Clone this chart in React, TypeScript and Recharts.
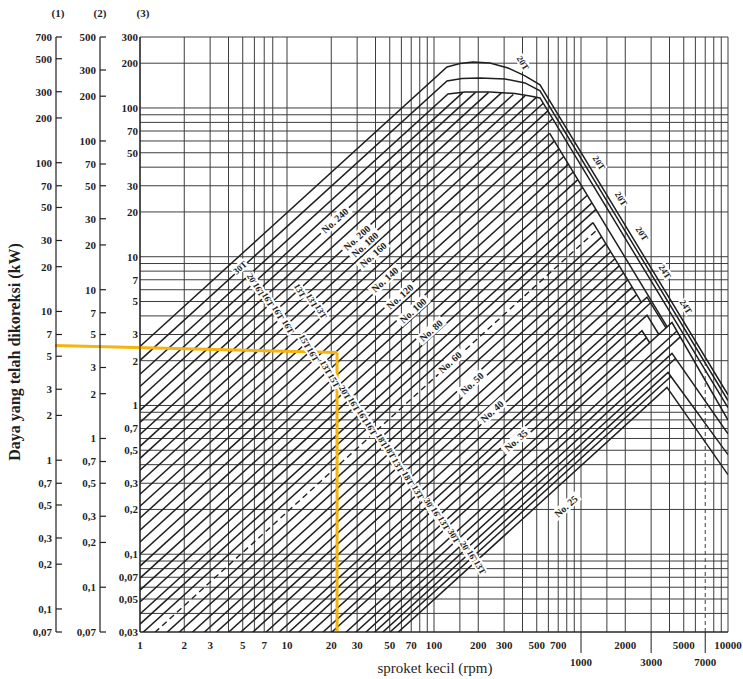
import React from 'react';
import { ComposedChart, Line, Scatter, XAxis, YAxis, CartesianGrid, ReferenceLine } from 'recharts';

type Pt = [number, number];

const INK = '#1f1f1f';
const GRID = '#3d3d3d';
const GOLD = '#F6B40C';
const SERIF = '"Liberation Serif", "DejaVu Serif", serif';

// rpm axis (small sprocket)
const rpmGrid = [1, 2, 3, 4, 5, 6, 7, 8, 10, 20, 30, 40, 50, 60, 70, 80, 90, 100, 150, 200, 300, 400, 500, 600, 700, 800, 900, 1000, 1500, 2000, 3000, 4000, 5000, 6000, 8000, 9000, 10000];
const rpmTicks = [1, 2, 3, 5, 7, 10, 20, 30, 50, 70, 100, 200, 300, 500, 700, 1000, 2000, 3000, 5000, 7000, 10000];
const rpmLowRow = [1000, 3000, 7000];

// kW axes (3), (2), (1)
const kwGrid = [0.03, 0.04, 0.05, 0.06, 0.07, 0.08, 0.09, 0.1, 0.2, 0.3, 0.4, 0.5, 0.6, 0.7, 0.8, 0.9, 1, 2, 3, 4, 5, 6, 7, 8, 9, 10, 20, 30, 40, 50, 60, 70, 80, 90, 100, 200, 300];
const kwTicks = [0.03, 0.05, 0.07, 0.1, 0.2, 0.3, 0.5, 0.7, 1, 2, 3, 5, 7, 10, 20, 30, 50, 70, 100, 200, 300];
const scale2Ticks = [0.05, 0.1, 0.2, 0.3, 0.5, 0.7, 1, 2, 3, 5, 7, 10, 20, 30, 50, 70, 100, 200, 300, 500];
const scale1Ticks = [0.07, 0.1, 0.2, 0.3, 0.5, 0.7, 1, 2, 3, 5, 7, 10, 20, 30, 50, 70, 100, 200, 300, 500, 700];

// chain curves, [rpm, kW] vertices
const domeLines: Pt[][] = [
  [[1, 2.49], [122.6, 188.7], [150.3, 199.1], [184.2, 203.8], [240.4, 200.7], [318.7, 185.7], [415.9, 164.2], [526.2, 142.9], [10000, 1.18]],
  [[1, 2.01], [122.6, 151.9], [155.1, 157.9], [205.6, 159.1], [304.1, 156.7], [415.9, 147.3], [526.2, 130.2], [10000, 1.08]],
  [[1, 1.62], [124.5, 124.3], [162.5, 128.2], [240.4, 128.2], [355.6, 125.2], [449.9, 120.5], [526.2, 116.8], [10000, 0.968]],
];

const capLines: Pt[][] = [
  [[1, 1.34], [156.1, 126.3]],
  [[1, 1.12], [191.6, 127.2]],
  [[1, 0.927], [235.2, 127.2]],
  [[1, 0.77], [287.4, 126.3]],
  [[1, 0.639], [346.3, 123.3]],
  [[1, 0.531], [415.9, 120.5]],
  [[1, 0.441], [496.5, 117.8]],
];

const upperBundle: Pt[][] = [
  [[1, 0.367], [553.4, 107.6]],
  [[1, 0.305], [595.4, 95.6]],
  [[1, 0.253], [641.1, 84.7]],
  [[612.4, 67.6], [3858, 3.38]],
  [[1, 0.21], [612.4, 67.6]],
  [[1, 0.175], [659.2, 59.9]],
  [[1, 0.145], [709.8, 53.2]],
  [[1, 0.121], [763.8, 47.2]],
  [[1, 0.1], [822.2, 41.9]],
  [[1, 0.0832], [885.1, 37.1]],
  [[1, 0.0691], [952.6, 33.0]],
  [[1, 0.0574], [1025, 29.2]],
  [[1, 0.0477], [1104, 25.9]],
  [[1, 0.0396], [1188, 23.0]],
  [[1, 0.0339], [1263, 20.8]],
];

const midBundle: Pt[][] = [
  [[1207, 16.96], [2576, 4.93]],
  [[1, 0.0286], [1207, 16.96]],
  [[1, 0.0204], [1381, 13.6]],
  [[1, 0.0172], [1477, 12.2]],
  [[1, 0.0143], [1590, 10.8]],
  [[1, 0.0121], [1701, 9.69]],
  [[1, 0.0102], [1819, 8.68]],
  [[1, 0.00858], [1946, 7.78]],
  [[1, 0.00724], [2082, 6.97]],
  [[1, 0.00611], [2227, 6.25]],
  [[1, 0.00507], [2393, 5.56]],
];
const dashedLine: Pt[] = [[1, 0.0242], [1291, 15.2]];

const lowBundle: Pt[][] = [
  [[1, 0.00421], [2812, 5.35], [3786, 3.32]],
  [[1, 0.00367], [2966, 4.88]],
  [[1, 0.00319], [2812, 4.05], [3388, 3.0]],
  [[1, 0.00269], [2600, 3.18], [2934, 2.64]],
  [[1, 0.00227], [2790, 2.86]],
  [[1, 0.00201], [4159, 3.61], [10000, 0.798]],
  [[1, 0.00164], [4493, 3.17]],
  [[1, 0.00143], [4737, 2.89]],
  [[1, 0.00124], [4159, 2.24], [10000, 0.645]],
  [[1, 0.0011], [4388, 2.07]],
  [[1, 0.000978], [3907, 1.667], [10000, 0.467]],
  [[1, 0.000885], [4089, 1.567]],
  [[1, 0.000787], [3846, 1.322], [10000, 0.3425]],
];

// text on the curves
const chainTags = [
  { rpm: 21.2, kW: 17.5, text: 'No. 240' },
  { rpm: 29.9, kW: 13.4, text: 'No. 200' },
  { rpm: 33.9, kW: 12.05, text: 'No. 180' },
  { rpm: 38.5, kW: 10.3, text: 'No. 160' },
  { rpm: 46.4, kW: 7.02, text: 'No. 140' },
  { rpm: 58.7, kW: 5.4, text: 'No. 120' },
  { rpm: 72, kW: 4.35, text: 'No. 100' },
  { rpm: 95.4, kW: 3.19, text: 'No. 80' },
  { rpm: 128.5, kW: 1.95, text: 'No. 60' },
  { rpm: 181.3, kW: 1.41, text: 'No. 50' },
  { rpm: 248.1, kW: 0.912, text: 'No. 40' },
  { rpm: 361.3, kW: 0.583, text: 'No. 35' },
  { rpm: 790.7, kW: 0.21, text: 'No. 25' },
];
const topTag = [{ rpm: 4.79, kW: 8.45, text: '30T' }];
const toothTags = [
  { rpm: 5.87, kW: 6.91, text: '20T' },
  { rpm: 6.45, kW: 6.01, text: '16T' },
  { rpm: 7.43, kW: 5.15, text: '16T' },
  { rpm: 8.69, kW: 4.21, text: '16T' },
  { rpm: 10.16, kW: 3.39, text: '16T' },
  { rpm: 12.26, kW: 5.92, text: '13T' },
  { rpm: 14.8, kW: 5.07, text: '13T' },
  { rpm: 17.03, kW: 4.28, text: '13T' },
  { rpm: 13.26, kW: 2.69, text: '15T' },
  { rpm: 15.03, kW: 2.2, text: '16T' },
  { rpm: 18.42, kW: 1.8, text: '13T' },
  { rpm: 20.88, kW: 1.47, text: '15T' },
  { rpm: 24.81, kW: 1.224, text: '20T' },
  { rpm: 28.57, kW: 1.017, text: '16T' },
  { rpm: 32.89, kW: 0.845, text: '16T' },
  { rpm: 37.27, kW: 0.702, text: '16T' },
  { rpm: 44.29, kW: 0.583, text: '18T' },
  { rpm: 50.19, kW: 0.492, text: '18T' },
  { rpm: 56.9, kW: 0.396, text: '13T' },
  { rpm: 66.55, kW: 0.324, text: '18T' },
  { rpm: 77.86, kW: 0.261, text: '13T' },
  { rpm: 93.9, kW: 0.2135, text: '30T' },
  { rpm: 104.8, kW: 0.1857, text: '16T' },
  { rpm: 117, kW: 0.1616, text: '13T' },
  { rpm: 136.8, kW: 0.1322, text: '30T' },
  { rpm: 165.1, kW: 0.1099, text: '20T' },
  { rpm: 184.2, kW: 0.0956, text: '16T' },
  { rpm: 205.6, kW: 0.0819, text: '13T' },
];
const edgeTags = [
  { rpm: 403, kW: 200.7, text: '20T' },
  { rpm: 1326, kW: 42.8, text: '20T' },
  { rpm: 1872, kW: 24.5, text: '20T' },
  { rpm: 2600, kW: 14.3, text: '20T' },
  { rpm: 3727, kW: 7.94, text: '24T' },
  { rpm: 5180, kW: 4.62, text: '24T' },
];

// hand-drawn reading line
const guide: Pt[] = [[0.264, 2.53], [21.9, 2.27], [21.9, 0.03]];

const rows = (pts: Pt[]) => pts.map(([rpm, kW]) => ({ rpm, kW }));
const comma = (v: number) => String(v).replace('.', ',');

const renderRpmTick = (props: any) => {
  const { x, y, payload } = props;
  const v = payload.value;
  const low = rpmLowRow.includes(v);
  return (
    <g>
      {low && <line x1={x} x2={x} y1={y - 8} y2={y + 13} stroke={INK} strokeWidth={1} />}
      <text x={x} y={low ? y + 26 : y + 9} textAnchor="middle" fontSize={11} fontWeight="bold" fontFamily={SERIF} fill={INK}>
        {v}
      </text>
    </g>
  );
};

const kwTick = (label: (v: number) => string, mark: boolean) => (props: any) => {
  const { x, y, payload } = props;
  return (
    <g>
      {mark && <line x1={x + 4} x2={x + 10} y1={y} y2={y} stroke={INK} strokeWidth={1.2} />}
      <text x={x} y={y} dy="0.35em" textAnchor="end" fontSize={11} fontWeight="bold" fontFamily={SERIF} fill={INK}>
        {label(payload.value)}
      </text>
    </g>
  );
};

const tagShape = (angle: number, size: number) => (props: any) => {
  const { cx, cy, payload } = props;
  const text: string = payload.text;
  const w = text.length * size * 0.5 + 3;
  const h = size + 1;
  return (
    <g transform={`rotate(${angle} ${cx} ${cy})`}>
      <rect x={cx - w / 2} y={cy - h / 2} width={w} height={h} fill="#fff" />
      <text x={cx} y={cy} dy="0.35em" textAnchor="middle" fontSize={size} fontWeight="bold" fontFamily={SERIF} fill={INK}>
        {text}
      </text>
    </g>
  );
};

const overlay = (left: number, top: number, extra: React.CSSProperties = {}): React.CSSProperties => ({
  position: 'absolute',
  left,
  top,
  transform: 'translate(-50%, -50%)',
  fontFamily: SERIF,
  color: INK,
  whiteSpace: 'nowrap',
  lineHeight: 1,
  ...extra,
});

export default function App() {
  const curves = [...domeLines, ...capLines, ...upperBundle, ...midBundle, ...lowBundle];
  return (
    <div style={{ position: 'absolute', left: 0, top: 0, width: 743, height: 679, background: '#fff', overflow: 'hidden' }}>
      <ComposedChart width={743} height={679} margin={{ top: 37, right: 15, bottom: 2, left: 16 }}>
        <CartesianGrid stroke={GRID} strokeWidth={1} verticalValues={rpmGrid} horizontalValues={kwGrid} />
        <XAxis
          dataKey="rpm"
          type="number"
          scale="log"
          domain={[1, 10000]}
          allowDataOverflow
          ticks={rpmTicks}
          interval={0}
          tick={renderRpmTick}
          tickLine={false}
          tickSize={0}
          tickMargin={8}
          height={45}
          axisLine={{ stroke: INK, strokeWidth: 1.2 }}
        />
        <YAxis
          yAxisId={0}
          dataKey="kW"
          type="number"
          scale="log"
          domain={[0.03, 300]}
          allowDataOverflow
          ticks={kwTicks}
          interval={0}
          width={40}
          tick={kwTick(comma, false)}
          tickLine={false}
          tickSize={0}
          tickMargin={2}
          axisLine={{ stroke: INK, strokeWidth: 1.2 }}
        />
        {/* scale (2), next to the plot */}
        <YAxis
          yAxisId="a"
          type="number"
          scale="log"
          domain={[0.05, 500]}
          allowDataOverflow
          ticks={scale2Ticks}
          interval={0}
          width={44}
          tick={kwTick((v) => (v === 0.05 ? '0,07' : comma(v)), true)}
          tickLine={false}
          tickSize={0}
          tickMargin={4}
          axisLine={{ stroke: INK, strokeWidth: 1.2 }}
        />
        {/* scale (1), outermost */}
        <YAxis
          yAxisId="b"
          type="number"
          scale="log"
          domain={[0.07, 700]}
          allowDataOverflow
          ticks={scale1Ticks}
          interval={0}
          width={40}
          tick={kwTick(comma, true)}
          tickLine={false}
          tickSize={0}
          tickMargin={4}
          axisLine={{ stroke: INK, strokeWidth: 1.2 }}
        />
        <ReferenceLine segment={[{ x: 7000, y: 2 }, { x: 7000, y: 300 }]} stroke={GRID} strokeWidth={1} />
        <ReferenceLine segment={[{ x: 7000, y: 0.03 }, { x: 7000, y: 2 }]} stroke={GRID} strokeWidth={1} strokeDasharray="4 3" />
        {curves.map((pts, i) => (
          <Line
            key={'c' + i}
            data={rows(pts)}
            dataKey="kW"
            type="linear"
            stroke={INK}
            strokeWidth={1.5}
            dot={false}
            activeDot={false}
            legendType="none"
            isAnimationActive={false}
          />
        ))}
        <Line
          data={rows(dashedLine)}
          dataKey="kW"
          type="linear"
          stroke={INK}
          strokeWidth={1.4}
          strokeDasharray="6 4"
          dot={false}
          activeDot={false}
          legendType="none"
          isAnimationActive={false}
        />
        <Scatter data={chainTags} dataKey="kW" shape={tagShape(-42, 10)} isAnimationActive={false} />
        <Scatter data={topTag} dataKey="kW" shape={tagShape(-42, 9)} isAnimationActive={false} />
        <Scatter data={toothTags} dataKey="kW" shape={tagShape(60, 9)} isAnimationActive={false} />
        <Scatter data={edgeTags} dataKey="kW" shape={tagShape(58, 9)} isAnimationActive={false} />
        <ReferenceLine
          segment={[{ x: guide[0][0], y: guide[0][1] }, { x: guide[1][0], y: guide[1][1] }]}
          stroke={GOLD}
          strokeWidth={3}
          ifOverflow="visible"
        />
        <ReferenceLine
          segment={[{ x: guide[1][0], y: guide[1][1] }, { x: guide[2][0], y: guide[2][1] }]}
          stroke={GOLD}
          strokeWidth={3}
          ifOverflow="visible"
        />
      </ComposedChart>
      <div style={overlay(58, 13, { fontSize: 11, fontWeight: 'bold' })}>(1)</div>
      <div style={overlay(100, 13, { fontSize: 11, fontWeight: 'bold' })}>(2)</div>
      <div style={overlay(143, 13, { fontSize: 11, fontWeight: 'bold' })}>(3)</div>
      <div style={overlay(15, 352, { fontSize: 16, fontWeight: 'bold', transform: 'translate(-50%, -50%) rotate(-90deg)' })}>
        Daya yang telah dikoreksi (kW)
      </div>
      <div style={overlay(435, 668, { fontSize: 15 })}>sproket kecil (rpm)</div>
    </div>
  );
}
